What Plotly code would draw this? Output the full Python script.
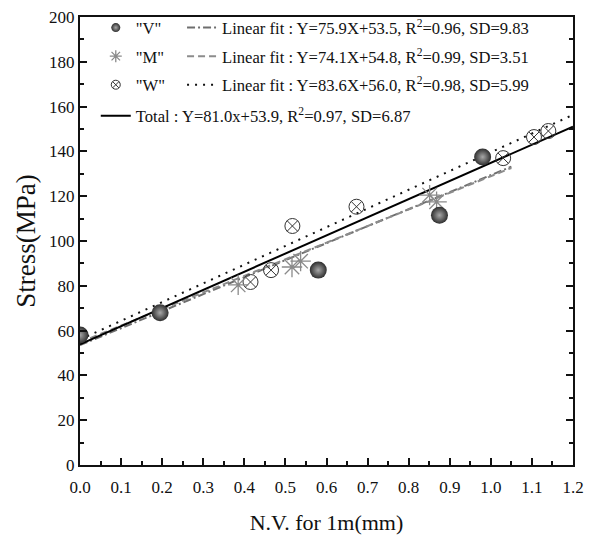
import plotly.graph_objects as go

# ---- data ----
v_x = [0.0, 0.195, 0.58, 0.875, 0.98]
v_y = [58.0, 68.0, 87.0, 111.5, 137.5]
m_x = [0.385, 0.516, 0.537, 0.851, 0.868]
m_y = [80.4, 88.4, 91.0, 120.5, 117.5]
w_x = [0.415, 0.465, 0.517, 0.673, 1.03, 1.105, 1.14]
w_y = [81.7, 87.0, 106.7, 115.3, 137.0, 146.4, 149.1]

# linear fits as reported in the legend
fit_names = ["V", "M", "W", "Total"]
fit_slope = [75.9, 74.1, 83.6, 81.0]
fit_icpt = [53.5, 54.8, 56.0, 53.9]
fit_r2 = [0.96, 0.99, 0.98, 0.97]
fit_sd = [9.83, 3.51, 5.99, 6.87]
fit_xmax = [1.05, 1.05, 1.2, 1.2]

x_ticks = [round(i * 0.1, 1) for i in range(13)]
y_ticks = list(range(0, 201, 20))

FONT = "Liberation Serif"

fig = go.Figure()

def fit_line(i):
    xs = [0.0, fit_xmax[i]]
    ys = [fit_slope[i] * x + fit_icpt[i] for x in xs]
    return xs, ys

line_styles = [
    dict(color="#6e6e6e", width=2, dash="8px,3px,2px,3px"),
    dict(color="#8c8c8c", width=2, dash="7px,4px"),
    dict(color="#111111", width=2, dash="2px,6px"),
    dict(color="#000000", width=2),
]

# fit lines
for i in range(4):
    xs, ys = fit_line(i)
    if i < 3:
        nm = (f"Linear fit : Y={fit_slope[i]:.1f}X+{fit_icpt[i]:.1f}, "
              f"R<sup>2</sup>={fit_r2[i]:.2f}, SD={fit_sd[i]:.2f}")
        lg = "legend2"
    else:
        nm = (f"Total : Y={fit_slope[i]:.1f}x+{fit_icpt[i]:.1f}, "
              f"R<sup>2</sup>={fit_r2[i]:.2f}, SD={fit_sd[i]:.2f}")
        lg = "legend3"
    fig.add_trace(go.Scatter(x=xs, y=ys, mode="lines", line=line_styles[i],
                             name=nm, legend=lg, legendgroup=f"f{i}",
                             hoverinfo="skip"))

v_marker = dict(symbol="circle", size=17, color="#2e2e2e",
                gradient=dict(type="radial", color="#a8a8a8"),
                line=dict(width=0))
m_marker = dict(symbol="asterisk-open", size=17, color="#8a8a8a",
                line=dict(color="#8a8a8a", width=1.3))
w_marker = dict(symbol="circle-x-open", size=15, color="#333333",
                line=dict(color="#333333", width=1))

fig.add_trace(go.Scatter(x=w_x, y=w_y, mode="markers", marker=w_marker, showlegend=False))
fig.add_trace(go.Scatter(x=m_x, y=m_y, mode="markers", marker=m_marker, showlegend=False))
fig.add_trace(go.Scatter(x=v_x, y=v_y, mode="markers", marker=v_marker, showlegend=False))

# legend-only entries for markers (smaller symbols)
for nm, mk, sz in [('"V"', v_marker, 9), ('"M"', m_marker, 10), ('"W"', w_marker, 9)]:
    mk2 = dict(mk)
    mk2["size"] = sz
    fig.add_trace(go.Scatter(x=[None], y=[None], mode="markers", marker=mk2,
                             name=nm, legend="legend", legendgroup=nm))

leg_common = dict(font=dict(family=FONT, size=16.6, color="#111"),
                  bgcolor="rgba(0,0,0,0)", borderwidth=0,
                  xanchor="left", yanchor="top", tracegroupgap=4,
                  traceorder="grouped", itemclick=False)

fig.update_layout(
    width=601, height=535,
    margin=dict(l=80, r=28, t=17, b=70, autoexpand=False),
    paper_bgcolor="white", plot_bgcolor="white",
    font=dict(family=FONT, size=17, color="#111"),
    legend=dict(x=0.032, y=1.015, **leg_common),
    legend2=dict(x=0.207, y=1.015, **leg_common),
    legend3=dict(x=0.032, y=0.818, **leg_common),
    xaxis=dict(range=[0, 1.2], tickvals=x_ticks,
               ticktext=[f"{v:.1f}" for v in x_ticks],
               ticks="inside", ticklen=7, tickwidth=1.5, tickcolor="#111",
               minor=dict(dtick=0.05, ticks="inside", ticklen=4, tickwidth=1.5, tickcolor="#111"),
               showline=True, linecolor="#111", linewidth=2, mirror=True,
               showgrid=False, zeroline=False, ticklabelstandoff=6, automargin=False,
               tickfont=dict(family=FONT, size=17),
               title=dict(text="N.V. for 1m(mm)", font=dict(family=FONT, size=22), standoff=18)),
    yaxis=dict(range=[0, 200], tickvals=y_ticks,
               ticks="inside", ticklen=7, tickwidth=1.5, tickcolor="#111",
               minor=dict(dtick=10, ticks="inside", ticklen=4, tickwidth=1.5, tickcolor="#111"),
               showline=True, linecolor="#111", linewidth=2, mirror="ticks",
               showgrid=False, zeroline=False, automargin=False,
               tickfont=dict(family=FONT, size=17),
               title=dict(text="Stress(MPa)", font=dict(family=FONT, size=27), standoff=6)),
)

fig.write_html("out.html")
